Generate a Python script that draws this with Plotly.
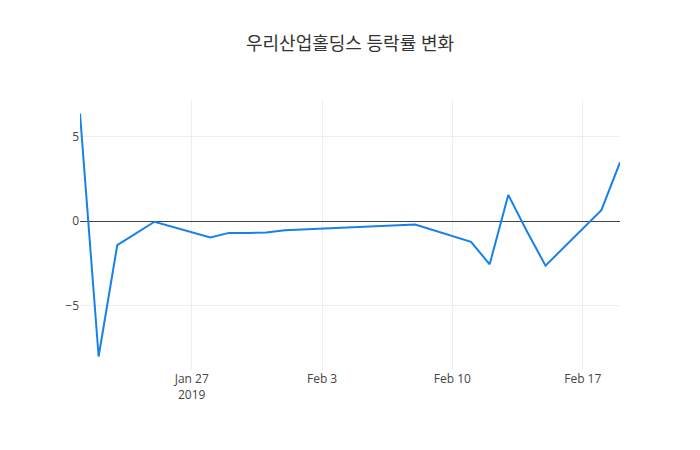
import plotly.graph_objects as go

dates = ["2019-01-21", "2019-01-22", "2019-01-23", "2019-01-24", "2019-01-25",
         "2019-01-28", "2019-01-29", "2019-01-30", "2019-01-31", "2019-02-01",
         "2019-02-08", "2019-02-11", "2019-02-12", "2019-02-13",
         "2019-02-14", "2019-02-15", "2019-02-18", "2019-02-19"]
change_pct = [6.37, -8.02, -1.43, -0.75, -0.04,
              -0.97, -0.70, -0.70, -0.68, -0.55,
              -0.20, -1.23, -2.56, 1.55,
              -0.60, -2.64, 0.65, 3.47]

fig = go.Figure(go.Scatter(x=dates, y=change_pct, mode="lines",
                           line=dict(color="#1681e6", width=2)))
fig.update_layout(
    template="none",
    width=700, height=450,
    title=dict(text="우리산업홀딩스 등락률 변화", x=0.5, xanchor="center",
               font=dict(size=18, color="#333")),
    font=dict(family="Open Sans, Noto Sans CJK KR, sans-serif", color="#444"),
    margin=dict(l=80, r=80, t=100, b=80),
    paper_bgcolor="white", plot_bgcolor="white",
    xaxis=dict(showgrid=True, gridcolor="#eee", zeroline=False, showline=False,
               ticks="", tickformat="%b %-d\n%Y"),
    yaxis=dict(showgrid=True, gridcolor="#eee", zeroline=True, zerolinecolor="#444",
               zerolinewidth=1, showline=False, ticks=""),
    showlegend=False,
)
fig.write_html("out.html")
